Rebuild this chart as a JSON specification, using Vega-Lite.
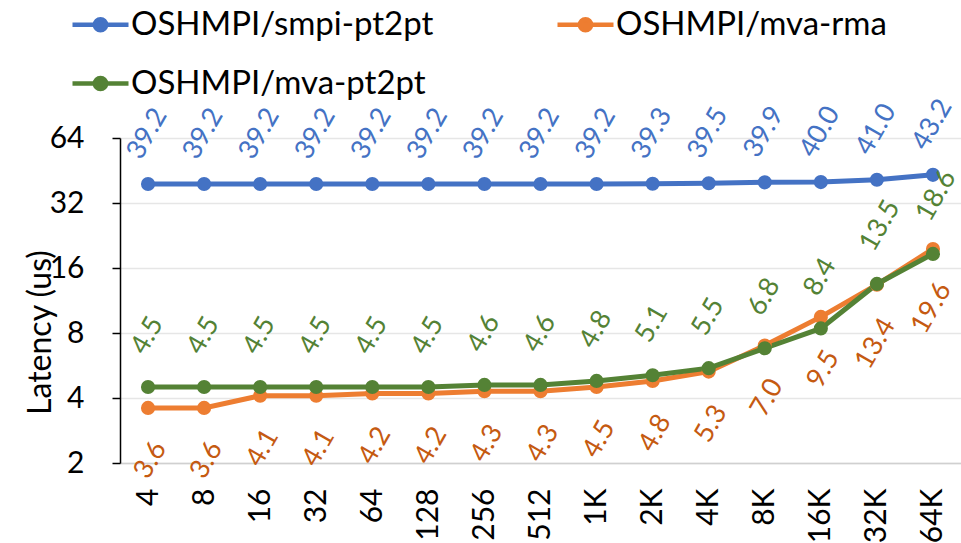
{
  "$schema": "https://vega.github.io/schema/vega-lite/v6.json",
  "autosize": {"type": "none"},
  "width": 841,
  "height": 325,
  "padding": {"left": 120, "top": 138, "right": 0, "bottom": 80},
  "background": "white",
  "config": {
    "font": "Lato",
    "view": {"stroke": null}
  },
  "data": {
    "values": [
      {"size": "4", "series": "OSHMPI/smpi-pt2pt", "latency": 39.2},
      {"size": "8", "series": "OSHMPI/smpi-pt2pt", "latency": 39.2},
      {"size": "16", "series": "OSHMPI/smpi-pt2pt", "latency": 39.2},
      {"size": "32", "series": "OSHMPI/smpi-pt2pt", "latency": 39.2},
      {"size": "64", "series": "OSHMPI/smpi-pt2pt", "latency": 39.2},
      {"size": "128", "series": "OSHMPI/smpi-pt2pt", "latency": 39.2},
      {"size": "256", "series": "OSHMPI/smpi-pt2pt", "latency": 39.2},
      {"size": "512", "series": "OSHMPI/smpi-pt2pt", "latency": 39.2},
      {"size": "1K", "series": "OSHMPI/smpi-pt2pt", "latency": 39.2},
      {"size": "2K", "series": "OSHMPI/smpi-pt2pt", "latency": 39.3},
      {"size": "4K", "series": "OSHMPI/smpi-pt2pt", "latency": 39.5},
      {"size": "8K", "series": "OSHMPI/smpi-pt2pt", "latency": 39.9},
      {"size": "16K", "series": "OSHMPI/smpi-pt2pt", "latency": 40.0},
      {"size": "32K", "series": "OSHMPI/smpi-pt2pt", "latency": 41.0},
      {"size": "64K", "series": "OSHMPI/smpi-pt2pt", "latency": 43.2},
      {"size": "4", "series": "OSHMPI/mva-rma", "latency": 3.6},
      {"size": "8", "series": "OSHMPI/mva-rma", "latency": 3.6},
      {"size": "16", "series": "OSHMPI/mva-rma", "latency": 4.1},
      {"size": "32", "series": "OSHMPI/mva-rma", "latency": 4.1},
      {"size": "64", "series": "OSHMPI/mva-rma", "latency": 4.2},
      {"size": "128", "series": "OSHMPI/mva-rma", "latency": 4.2},
      {"size": "256", "series": "OSHMPI/mva-rma", "latency": 4.3},
      {"size": "512", "series": "OSHMPI/mva-rma", "latency": 4.3},
      {"size": "1K", "series": "OSHMPI/mva-rma", "latency": 4.5},
      {"size": "2K", "series": "OSHMPI/mva-rma", "latency": 4.8},
      {"size": "4K", "series": "OSHMPI/mva-rma", "latency": 5.3},
      {"size": "8K", "series": "OSHMPI/mva-rma", "latency": 7.0},
      {"size": "16K", "series": "OSHMPI/mva-rma", "latency": 9.5},
      {"size": "32K", "series": "OSHMPI/mva-rma", "latency": 13.4},
      {"size": "64K", "series": "OSHMPI/mva-rma", "latency": 19.6},
      {"size": "4", "series": "OSHMPI/mva-pt2pt", "latency": 4.5},
      {"size": "8", "series": "OSHMPI/mva-pt2pt", "latency": 4.5},
      {"size": "16", "series": "OSHMPI/mva-pt2pt", "latency": 4.5},
      {"size": "32", "series": "OSHMPI/mva-pt2pt", "latency": 4.5},
      {"size": "64", "series": "OSHMPI/mva-pt2pt", "latency": 4.5},
      {"size": "128", "series": "OSHMPI/mva-pt2pt", "latency": 4.5},
      {"size": "256", "series": "OSHMPI/mva-pt2pt", "latency": 4.6},
      {"size": "512", "series": "OSHMPI/mva-pt2pt", "latency": 4.6},
      {"size": "1K", "series": "OSHMPI/mva-pt2pt", "latency": 4.8},
      {"size": "2K", "series": "OSHMPI/mva-pt2pt", "latency": 5.1},
      {"size": "4K", "series": "OSHMPI/mva-pt2pt", "latency": 5.5},
      {"size": "8K", "series": "OSHMPI/mva-pt2pt", "latency": 6.8},
      {"size": "16K", "series": "OSHMPI/mva-pt2pt", "latency": 8.4},
      {"size": "32K", "series": "OSHMPI/mva-pt2pt", "latency": 13.5},
      {"size": "64K", "series": "OSHMPI/mva-pt2pt", "latency": 18.6}
    ]
  },
  "encoding": {
    "x": {
      "field": "size", "type": "ordinal",
      "sort": ["4","8","16","32","64","128","256","512","1K","2K","4K","8K","16K","32K","64K"],
      "scale": {"type": "point", "padding": 0.5},
      "axis": {
        "title": null, "labelAngle": 270, "labelAlign": "right", "labelBaseline": "middle",
        "labelFontSize": 30, "labelColor": "black", "labelPadding": 25,
        "ticks": false, "domainColor": "#D0D0D0", "domainWidth": 1.5, "grid": false
      }
    },
    "y": {
      "field": "latency", "type": "quantitative",
      "scale": {"type": "log", "base": 2, "domain": [2, 64], "nice": false},
      "axis": {
        "title": "Latency (us)", "titleFontSize": 32, "titleFontWeight": "normal", "titleColor": "black",
        "titleX": -80, "titleY": 194, "titleAngle": 270, "titleAlign": "center", "titleBaseline": "middle",
        "values": [2, 4, 8, 16, 32, 64], "format": "d",
        "labelFontSize": 30, "labelColor": "black", "labelPadding": 28,
        "tickSize": 8, "tickColor": "black", "tickWidth": 1.5,
        "domainColor": "black", "domainWidth": 1.5,
        "grid": true, "gridColor": "#E6E6E6", "gridWidth": 1.5
      }
    }
  },
  "layer": [
    {
      "mark": {"type": "line", "strokeWidth": 5, "point": {"filled": true, "size": 200}},
      "encoding": {
        "color": {
          "field": "series", "type": "nominal",
          "scale": {"domain": ["OSHMPI/smpi-pt2pt", "OSHMPI/mva-rma", "OSHMPI/mva-pt2pt"], "range": ["#4472C4", "#ED7D31", "#548235"]},
          "legend": {
            "title": null, "orient": "none", "legendX": -50, "legendY": -144,
            "direction": "horizontal", "columns": 2, "columnPadding": 114, "rowPadding": 11,
            "labelFontSize": 33, "labelColor": "black", "labelOffset": 0, "labelLimit": 500,
            "symbolType": "M-1,0L1,0M0.2,0A0.2,0.2,0,1,1,-0.2,0A0.2,0.2,0,1,1,0.2,0",
            "symbolSize": 3136, "symbolStrokeWidth": 4.5,
            "encode": {"symbols": {"update": {"fill": {"scale": "color", "field": "value"}, "stroke": {"scale": "color", "field": "value"}, "fillOpacity": {"value": 1}, "opacity": {"value": 1}}}}
          }
        }
      }
    },
    {
      "transform": [{"filter": "datum.series === 'OSHMPI/smpi-pt2pt'"}],
      "mark": {"type": "text", "angle": 300, "align": "left", "baseline": "middle", "fontSize": 27, "color": "#4472C4", "xOffset": -14, "yOffset": -27},
      "encoding": {"text": {"field": "latency", "type": "quantitative", "format": ".1f"}}
    },
    {
      "transform": [{"filter": "datum.series === 'OSHMPI/mva-pt2pt'"}],
      "mark": {"type": "text", "angle": 300, "align": "left", "baseline": "middle", "fontSize": 27, "color": "#548235", "xOffset": -10, "yOffset": -35},
      "encoding": {"text": {"field": "latency", "type": "quantitative", "format": ".1f"}}
    },
    {
      "transform": [{"filter": "datum.series === 'OSHMPI/mva-rma'"}],
      "mark": {"type": "text", "angle": 300, "align": "right", "baseline": "middle", "fontSize": 27, "color": "#C55A11", "xOffset": 12, "yOffset": 36},
      "encoding": {"text": {"field": "latency", "type": "quantitative", "format": ".1f"}}
    }
  ]
}
